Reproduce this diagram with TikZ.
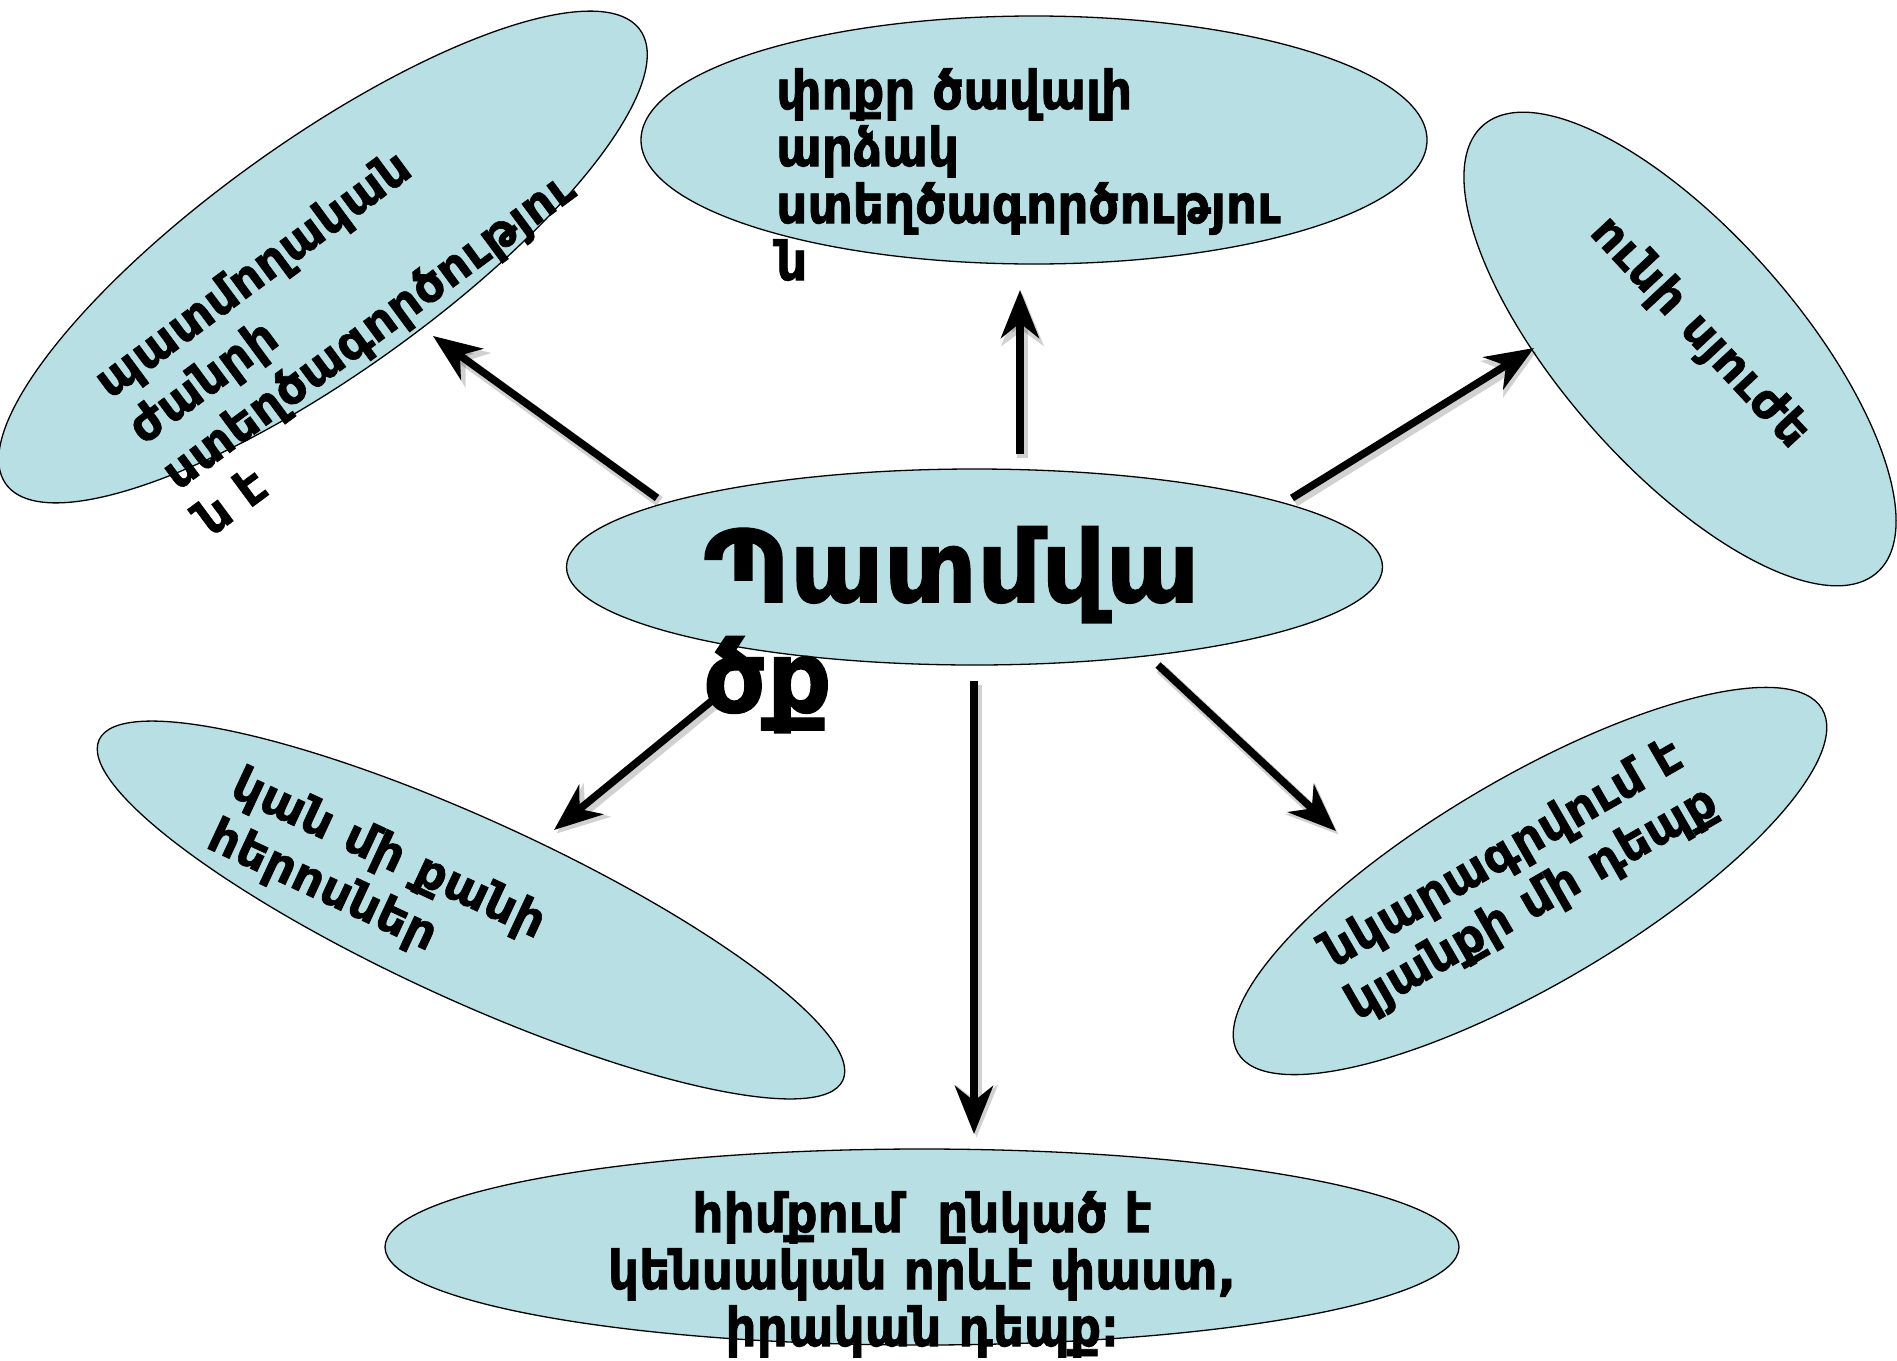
\documentclass[tikz,border=0pt]{standalone}
\usepackage{fontspec}
\setmainfont{DejaVu Sans}[BoldFont={DejaVu Sans Bold}, BoldFeatures={FakeBold=1.2}]
\newfontfamily\condfont{DejaVu Sans}[BoldFont={DejaVu Sans Bold}, FakeStretch=0.9, BoldFeatures={FakeBold=1.2}]
\usetikzlibrary{shapes.geometric,arrows.meta}
\definecolor{bubblefill}{RGB}{184,224,228}
\begin{document}
\begin{tikzpicture}[x=1pt,y=-1pt,
  bubble/.style={ellipse, draw=black, line width=1.3pt, fill=bubblefill, inner sep=0pt},
  lbl/.style={inner sep=0pt, font=\bfseries\fontsize{48}{57}\selectfont},
  condlbl/.style={inner sep=0pt, font=\condfont\bfseries\fontsize{54}{57}\selectfont},
  biglbl/.style={inner sep=0pt, font=\bfseries\fontsize{100}{110}\selectfont},
  arr/.style={line width=7.5pt, -{Stealth[length=48pt,width=38pt,inset=15pt]},
    preaction={draw=black, opacity=0.18, line width=11pt, -{Stealth[length=52pt,width=42pt,inset=15pt]},
      transform canvas={shift={(2.5pt,-3.5pt)}}}}]
\useasboundingbox[fill=white] (0,0) rectangle (1897,1360);

% ellipses
\node[bubble, minimum width=780pt, minimum height=232pt, rotate=35.6] (tl) at (323,257) {};
\node[bubble, minimum width=786pt, minimum height=248pt] (top) at (1034,140) {};
\node[bubble, minimum width=596pt, minimum height=236pt, rotate=-48.6] (rt) at (1680,349) {};
\node[bubble, minimum width=816pt, minimum height=196pt] (ctr) at (974.5,567) {};
\node[bubble, minimum width=818pt, minimum height=180pt, rotate=-24.6] (ll) at (471,910) {};
\node[bubble, minimum width=678pt, minimum height=206pt, rotate=30.5] (lr) at (1530,881) {};
\node[bubble, minimum width=1074pt, minimum height=196pt] (bot) at (922,1247) {};

% arrow end points
\coordinate (a1s) at (657,498);  \coordinate (a1e) at (433,336);
\coordinate (a2s) at (1020,454); \coordinate (a2e) at (1020,290);
\coordinate (a3s) at (1292,498); \coordinate (a3e) at (1534,348);
\coordinate (a4s) at (714,699);  \coordinate (a4e) at (554,830);
\coordinate (a5s) at (974,681);  \coordinate (a5e) at (974,1134);
\coordinate (a6s) at (1158,665); \coordinate (a6e) at (1336,831);

\draw[arr] (a1s) -- (a1e);
\draw[arr] (a2s) -- (a2e);
\draw[arr] (a3s) -- (a3e);
\draw[arr] (a4s) -- (a4e);
\draw[arr] (a5s) -- (a5e);
\draw[arr] (a6s) -- (a6e);

% texts
\node[lbl, align=left, rotate=36.5] (tltext) at (350,306) {պատմողական\\ժանրի\\ստեղծագործությու\\ն է};
\node[condlbl, align=left, anchor=north west] (toptext) at (776,68) {փոքր ծավալի\\արձակ\\ստեղծագործությու\\ն};
\node[lbl, rotate=-47] (rttext) at (1699,333) {ունի սյուժե};
\node[biglbl, align=left, anchor=north west] (ctrtext) at (703,526) {Պատմվա\\ծք};
\node[lbl, align=left, rotate=-25] (lltext) at (376,881) {կան մի քանի\\հերոսներ};
\node[lbl, align=center, rotate=30] (lrtext) at (1518,880) {նկարագրվում է\\կյանքի մի դեպք};
\node[condlbl, align=center, anchor=north] (bottext) at (922,1191) {հիմքում~ ընկած է\\կենսական որևէ փաստ,\\իրական դեպք։};
\end{tikzpicture}
\end{document}
